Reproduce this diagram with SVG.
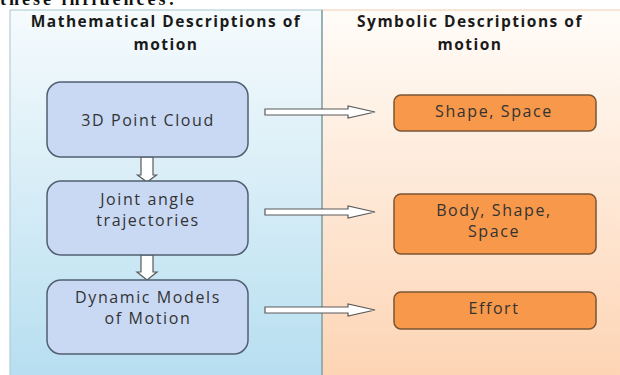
<svg xmlns="http://www.w3.org/2000/svg" width="620" height="375" viewBox="0 0 620 375">
<defs>
<linearGradient id="gl" x1="0" y1="0" x2="0" y2="1">
<stop offset="0" stop-color="#f6fbfd"/>
<stop offset="1" stop-color="#b6def0"/>
</linearGradient>
<linearGradient id="gr" x1="0" y1="0" x2="0" y2="1">
<stop offset="0" stop-color="#fffcf8"/>
<stop offset="1" stop-color="#fdd4b4"/>
</linearGradient>
<style>
.hdr{font-family:"Open Sans","DejaVu Sans",sans-serif;font-weight:bold;font-size:15.5px;fill:#1a1a1a;letter-spacing:1.5px;text-anchor:middle}
.lbl{font-family:"Open Sans","DejaVu Sans",sans-serif;font-size:16px;fill:#333;letter-spacing:1.6px;text-anchor:middle}
.blue{fill:#c9d9f4;stroke:#525f70;stroke-width:1.5}
.orange{fill:#f7984a;stroke:#7a5535;stroke-width:1.5}
.arr{fill:#ffffff;stroke:#5a5a5a;stroke-width:1.2}
</style>
</defs>
<rect width="620" height="375" fill="#ffffff"/>
<text x="0" y="5" font-family="Liberation Serif,serif" font-weight="bold" font-size="18" letter-spacing="3" fill="#111">these influences:</text>
<g id="panels">
<rect x="10" y="10" width="312" height="370" fill="url(#gl)" stroke="#a8c6d2" stroke-width="1"/>
<rect x="322" y="10" width="300" height="370" fill="url(#gr)" stroke="#f0cdb0" stroke-width="1"/>
<line x1="322" y1="10" x2="322" y2="375" stroke="#7ea2aa" stroke-width="1.5"/>
</g>
<g id="headers">
<text class="hdr" x="166" y="27">Mathematical Descriptions of</text>
<text class="hdr" x="166" y="50">motion</text>
<text class="hdr" x="470" y="27">Symbolic Descriptions of</text>
<text class="hdr" x="470" y="50">motion</text>
</g>
<g id="connectors">
<path class="arr" d="M141,157 H153 V175 H156.5 L147,182 L137.5,175 H141 Z"/>
<path class="arr" d="M141,255 H153 V272 H157 L147,280 L137,272 H141 Z"/>
<path class="arr" d="M265,109 H348 V106 L375,112 L348,118 V115 H265 Z"/>
<path class="arr" d="M265,209 H348 V206 L375,212 L348,218 V215 H265 Z"/>
<path class="arr" d="M265,307 H348 V304 L375,310 L348,316 V313 H265 Z"/>
</g>
<g id="node-pointcloud">
<rect class="blue" x="47" y="82" width="201" height="75" rx="14"/>
<text class="lbl" x="148" y="126">3D Point Cloud</text>
</g>
<g id="node-joint">
<rect class="blue" x="47" y="181" width="201" height="74" rx="14"/>
<text class="lbl" x="148" y="205">Joint angle</text>
<text class="lbl" x="148" y="226">trajectories</text>
</g>
<g id="node-dynamic">
<rect class="blue" x="47" y="280" width="201" height="74" rx="14"/>
<text class="lbl" x="148" y="303">Dynamic Models</text>
<text class="lbl" x="148" y="324">of Motion</text>
</g>
<g id="node-shapespace">
<rect class="orange" x="394" y="95" width="202" height="36" rx="7"/>
<text class="lbl" x="494" y="117">Shape, Space</text>
</g>
<g id="node-body">
<rect class="orange" x="394" y="194" width="202" height="60" rx="7"/>
<text class="lbl" x="494" y="216">Body, Shape,</text>
<text class="lbl" x="494" y="237">Space</text>
</g>
<g id="node-effort">
<rect class="orange" x="394" y="292" width="202" height="37" rx="7"/>
<text class="lbl" x="494" y="314">Effort</text>
</g>
</svg>
